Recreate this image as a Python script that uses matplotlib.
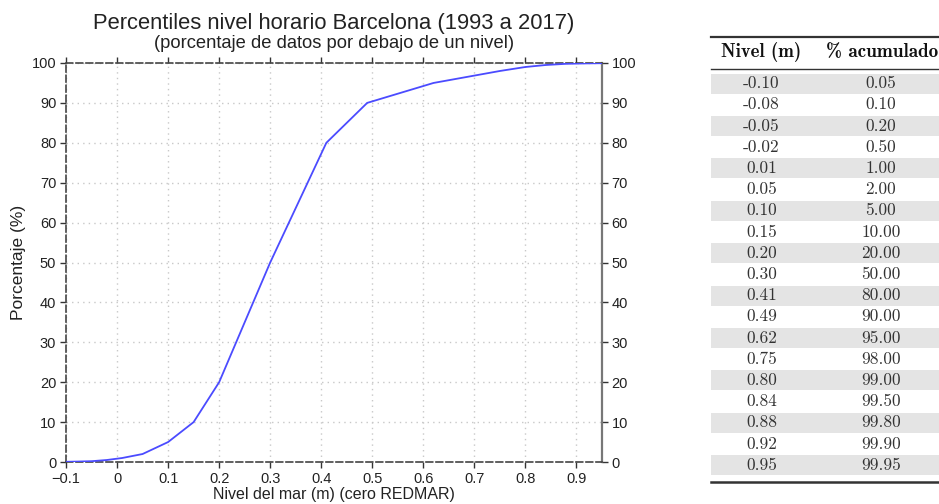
import matplotlib
matplotlib.use("Agg")
import matplotlib.pyplot as plt
from matplotlib.patches import Rectangle
from matplotlib.lines import Line2D

# Sea level percentiles, Barcelona (1993-2017)
nivel = [-0.10, -0.08, -0.05, -0.02, 0.01, 0.05, 0.10, 0.15, 0.20, 0.30,
         0.41, 0.49, 0.62, 0.75, 0.80, 0.84, 0.88, 0.92, 0.95]
acumulado = [0.05, 0.10, 0.20, 0.50, 1.00, 2.00, 5.00, 10.00, 20.00, 50.00,
             80.00, 90.00, 95.00, 98.00, 99.00, 99.50, 99.80, 99.90, 99.95]

x_ticks = [-0.1, 0, 0.1, 0.2, 0.3, 0.4, 0.5, 0.6, 0.7, 0.8, 0.9]
x_tick_labels = ["\u22120.1", "0", "0.1", "0.2", "0.3", "0.4", "0.5", "0.6", "0.7", "0.8", "0.9"]
y_ticks = [0, 10, 20, 30, 40, 50, 60, 70, 80, 90, 100]

col_headers = ["Nivel (m)", "% acumulado"]

W, H = 939, 504
fig = plt.figure(figsize=(W / 100, H / 100), dpi=100)

sans = ["Liberation Sans", "DejaVu Sans"]

# ---- main line chart ----
left, right, top, bottom = 66, 602, 63, 462
ax = fig.add_axes([left / W, 1 - bottom / H, (right - left) / W, (bottom - top) / H])
ax.plot(nivel, acumulado, color="#4b4bff", lw=1.3, zorder=3)
ax.set_xlim(-0.1, 0.95)
ax.set_ylim(0, 100)
ax.set_xticks(x_ticks)
ax.set_xticklabels(x_tick_labels)
ax.set_yticks(y_ticks)
ax.grid(True, color="#c8c8c8", linestyle=(0, (1, 3)), lw=1.0)
ax.tick_params(axis="both", direction="out", length=4, width=1, color="#333333",
               labelsize=10.5, pad=3, top=True, right=True, labelright=True,
               labelcolor="#222222")
for lab in ax.get_xticklabels() + ax.get_yticklabels():
    lab.set_family(sans)
for side in ["top", "bottom", "left"]:
    ax.spines[side].set_linestyle((0, (4, 2)))
    ax.spines[side].set_color("#444444")
    ax.spines[side].set_linewidth(1.2)
ax.spines["right"].set_color("#777777")
ax.spines["right"].set_linewidth(1.6)

ax.set_xlabel("Nivel del mar (m) (cero REDMAR)", fontsize=11.5, family=sans,
              labelpad=1, color="#222222")
ax.set_ylabel("Porcentaje (%)", fontsize=12.5, family=sans, labelpad=4,
              color="#222222")

fig.text(334 / W, 1 - 23 / H, "Percentiles nivel horario Barcelona (1993 a 2017)",
         ha="center", va="center", fontsize=15.8, family=sans, color="#222222")
fig.text(334 / W, 1 - 43 / H, "(porcentaje de datos por debajo de un nivel)",
         ha="center", va="center", fontsize=13.2, family=sans, color="#222222")

# ---- table of values ----
tax = fig.add_axes([0, 0, 1, 1])
tax.set_xlim(0, W)
tax.set_ylim(H, 0)
tax.axis("off")

t_left, t_right = 711, W + 5
row_h = 21.2
first_row_c = 83.5
serif = ["cmr10", "DejaVu Serif"]
serif_b = ["cmb10", "DejaVu Serif"]
col1_c, col2_c = 761.5, 881

tax.add_line(Line2D([t_left, t_right], [37, 37], color="#333333", lw=1.6))
tax.add_line(Line2D([t_left, t_right], [68.5, 68.5], color="#333333", lw=1.0))
tax.text(col1_c, 52, col_headers[0], ha="center", va="center", fontsize=13.5,
         family=serif_b, color="#111111", fontweight="bold")
tax.text(826, 52, col_headers[1], ha="left", va="center", fontsize=13.8,
         family=serif_b, color="#111111", fontweight="bold")

for i, (n, a) in enumerate(zip(nivel, acumulado)):
    yc = first_row_c + i * row_h
    if i % 2 == 0:
        tax.add_patch(Rectangle((t_left, yc - row_h / 2 + 0.6), t_right - t_left, row_h - 1.2,
                                facecolor="#e4e4e4", edgecolor="none"))
    tax.text(col1_c, yc, f"{n:.2f}", ha="center", va="center", fontsize=12.5,
             family=serif, color="#333333")
    tax.text(col2_c, yc, f"{a:.2f}", ha="center", va="center", fontsize=12.5,
             family=serif, color="#333333")

tax.add_line(Line2D([t_left, t_right], [482, 482], color="#333333", lw=1.8))

fig.savefig("out.png", dpi=100)
